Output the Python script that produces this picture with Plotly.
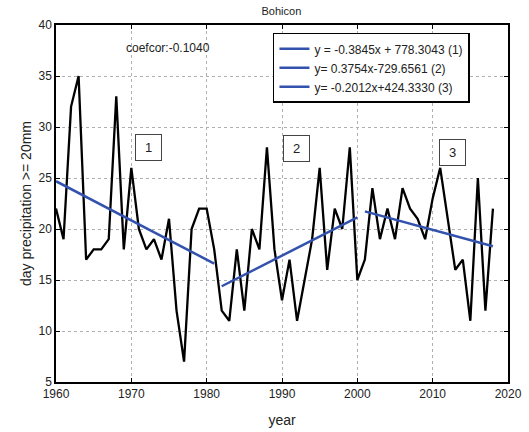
import plotly.graph_objects as go

years = list(range(1960, 2019))
values = [22, 19, 32, 35, 17, 18, 18, 19, 33, 18,
          26, 20, 18, 19, 17, 21, 12, 7, 20, 22,
          22, 18, 12, 11, 18, 12, 20, 18, 28, 18,
          13, 17, 11, 15, 19, 26, 16, 22, 20, 28,
          15, 17, 24, 19, 22, 19, 24, 22, 21, 19,
          23, 26, 21, 16, 17, 11, 25, 12, 22]

seg_start = [1960, 1982, 2001]
seg_end = [1981, 2000, 2018]
seg_slope = [-0.3845, 0.3754, -0.2012]
seg_intercept = [778.3043, -729.6561, 424.3330]
seg_names = ["y = -0.3845x + 778.3043 (1)",
             "y= 0.3754x-729.6561 (2)",
             "y= -0.2012x+424.3330 (3)"]
seg_labels = ["1", "2", "3"]
seg_label_x = [1972.3, 1991.9, 2012.6]
seg_label_y = [28.0, 27.9, 27.5]

title_text = "Bohicon"
coefcor_text = "coefcor:-0.1040"

FONT = "Liberation Sans, Arial, sans-serif"
BLUE = "#3352AE"

fig = go.Figure()
fig.add_trace(go.Scatter(x=years, y=values, mode="lines",
                         line=dict(color="black", width=2.3),
                         showlegend=False, hoverinfo="skip"))

for s, e, m, b, name in zip(seg_start, seg_end, seg_slope, seg_intercept, seg_names):
    xs = list(range(s, e + 1))
    ys = [m * x + b for x in xs]
    fig.add_trace(go.Scatter(x=xs, y=ys, mode="lines", name=name,
                             line=dict(color=BLUE, width=2.5)))

for lab, lx, ly in zip(seg_labels, seg_label_x, seg_label_y):
    fig.add_annotation(x=lx, y=ly, xref="x", yref="y", text=lab, showarrow=False,
                       font=dict(family=FONT, size=13, color="#222"),
                       bordercolor="#444", borderwidth=1, width=23, height=23,
                       bgcolor="white")

fig.add_annotation(x=1974.9, y=37.7, xref="x", yref="y", text=coefcor_text,
                   showarrow=False, font=dict(family=FONT, size=12, color="#222"))

axis_common = dict(showline=True, linecolor="black", linewidth=1.5, mirror="ticks",
                   ticks="inside", ticklen=4, tickcolor="black",
                   showgrid=True, gridcolor="#b0b0b0", griddash="dot", gridwidth=1,
                   zeroline=False,
                   tickfont=dict(family=FONT, size=12, color="#222"))

fig.update_layout(
    width=529, height=432,
    margin=dict(l=56, r=21, t=25, b=50),
    paper_bgcolor="white", plot_bgcolor="white",
    title=dict(text=title_text, x=0.532, xanchor="center", y=0.975, yanchor="middle",
               font=dict(family=FONT, size=11, color="#222")),
    xaxis=dict(range=[1960, 2020], dtick=10, tick0=1960, automargin=False,
               title=dict(text="year", font=dict(family=FONT, size=14, color="#222")),
               **axis_common),
    yaxis=dict(range=[5, 40], dtick=5, tick0=5, automargin=True,
               title=dict(text="day precipitation >= 20mm", font=dict(family=FONT, size=14, color="#222"), standoff=4),
               **axis_common),
    legend=dict(x=0.48, y=0.978, xanchor="left", yanchor="top",
                bgcolor="white", bordercolor="black", borderwidth=1.5,
                font=dict(family=FONT, size=12, color="#222"),
                tracegroupgap=0, itemwidth=30),
    showlegend=True,
)

fig.write_html("out.html", config={"displayModeBar": False},
               post_script="document.body.style.margin='0px';")
